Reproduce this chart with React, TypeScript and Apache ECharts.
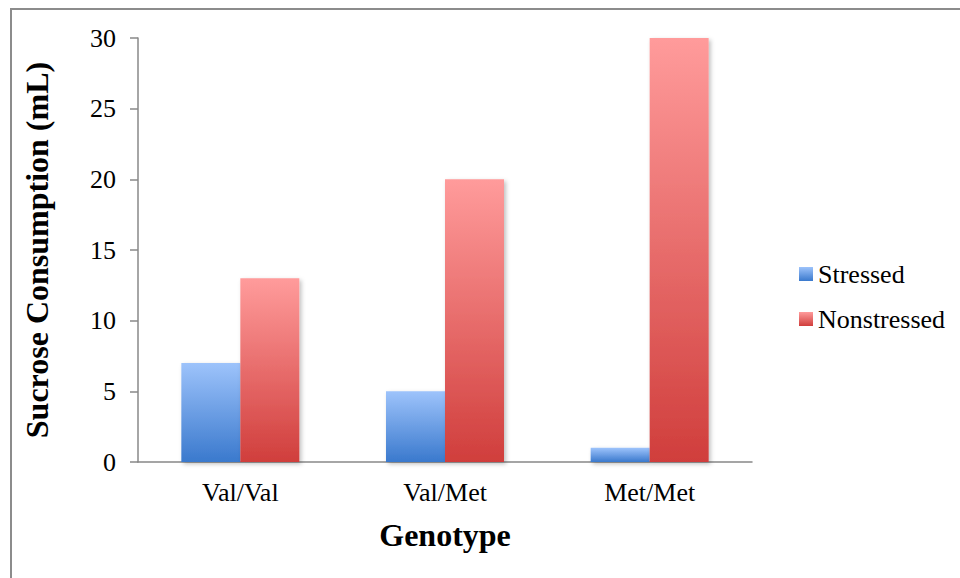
import React, { useEffect, useRef } from "react";
import * as echarts from "echarts";

const categories = ["Val/Val", "Val/Met", "Met/Met"];
const stressed = [7, 5, 1];
const nonstressed = [13, 20, 30];
const seriesNames = ["Stressed", "Nonstressed"];
const yTitle = "Sucrose Consumption (mL)";
const xTitle = "Genotype";

const FONT = "'Liberation Serif', 'Times New Roman', serif";

export default function App() {
  const ref = useRef<HTMLDivElement>(null);
  useEffect(() => {
    if (!ref.current) return;
    const chart = echarts.init(ref.current, undefined, { renderer: "svg" });
    const blue = new echarts.graphic.LinearGradient(0, 0, 0, 1, [
      { offset: 0, color: "#9dc3fb" },
      { offset: 1, color: "#3a79cd" },
    ]);
    const red = new echarts.graphic.LinearGradient(0, 0, 0, 1, [
      { offset: 0, color: "#ff9b9b" },
      { offset: 1, color: "#d03e3c" },
    ]);
    const shadow = {
      shadowBlur: 4,
      shadowColor: "rgba(0,0,0,0.25)",
      shadowOffsetX: 2,
      shadowOffsetY: 2,
    };
    chart.setOption({
      animation: false,
      backgroundColor: "#fff",
      textStyle: { fontFamily: FONT, color: "#000" },
      graphic: [
        {
          type: "rect",
          shape: { x: 11, y: 9, width: 1000, height: 700 },
          style: { fill: "none", stroke: "#8c8c8c", lineWidth: 2 },
          silent: true,
        },
      ],
      grid: { left: 138, top: 38, right: 208, bottom: 116 },
      legend: {
        orient: "vertical",
        left: 794,
        top: 256,
        itemWidth: 14,
        itemHeight: 14,
        itemGap: 19,
        icon: "rect",
        textStyle: { fontFamily: FONT, fontSize: 26, color: "#000" },
        data: seriesNames,
      },
      xAxis: {
        type: "category",
        data: categories,
        name: xTitle,
        nameLocation: "middle",
        nameGap: 57,
        nameTextStyle: { fontFamily: FONT, fontSize: 32, fontWeight: "bold", color: "#000" },
        axisLine: { lineStyle: { color: "#888", width: 1.5 } },
        axisTick: { length: 8, lineStyle: { color: "#888", width: 1.5 } },
        axisLabel: { fontFamily: FONT, fontSize: 26, color: "#000", margin: 17 },
      },
      yAxis: {
        type: "value",
        min: 0,
        max: 30,
        interval: 5,
        name: yTitle,
        nameLocation: "middle",
        nameGap: 85,
        nameRotate: 90,
        nameTextStyle: { fontFamily: FONT, fontSize: 32, fontWeight: "bold", color: "#000" },
        axisLine: { show: true, lineStyle: { color: "#888", width: 1.5 } },
        axisTick: { show: true, length: 8, lineStyle: { color: "#888", width: 1.5 } },
        axisLabel: { fontFamily: FONT, fontSize: 26, color: "#000", margin: 22 },
        splitLine: { show: false },
      },
      series: [
        {
          name: seriesNames[0],
          type: "bar",
          data: stressed,
          barWidth: 59,
          barGap: "0%",
          itemStyle: { color: blue, ...shadow },
        },
        {
          name: seriesNames[1],
          type: "bar",
          data: nonstressed,
          barWidth: 59,
          barGap: "0%",
          itemStyle: { color: red, ...shadow },
        },
      ],
    });
    return () => chart.dispose();
  }, []);
  return (
    <div
      ref={ref}
      style={{ position: "absolute", left: 0, top: 0, width: 960, height: 578 }}
    />
  );
}
